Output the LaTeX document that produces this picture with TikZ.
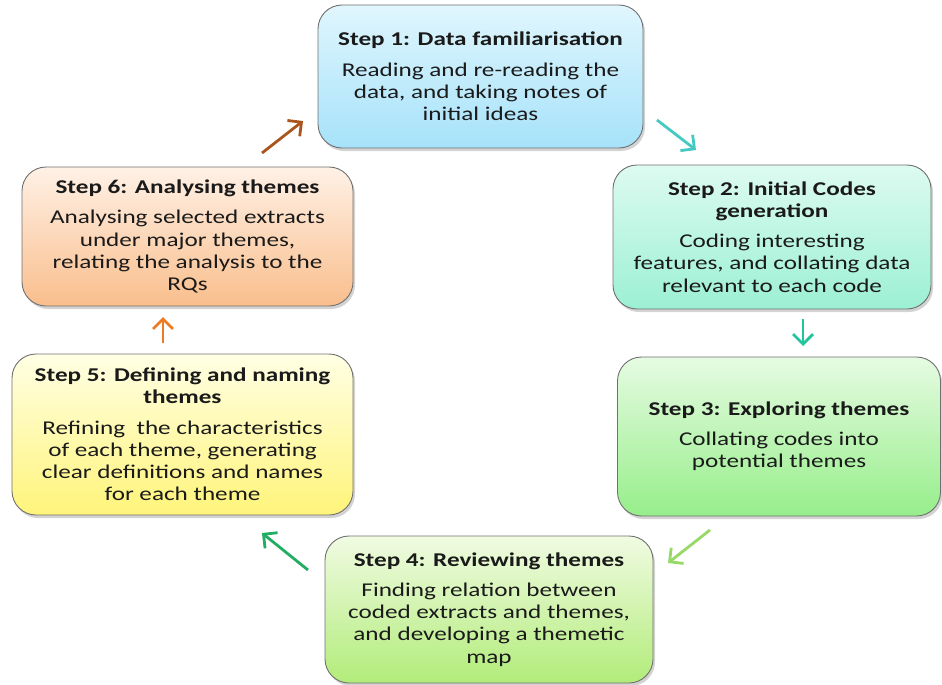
\documentclass[tikz,border=0pt]{standalone}
\usepackage{fontspec}
\setmainfont{Carlito}[FakeStretch=1.29]
\usetikzlibrary{arrows.meta,shadows}
\definecolor{txt}{HTML}{1A1A1A}
\definecolor{bord}{HTML}{707070}
\definecolor{t1}{HTML}{E0F6FD}\definecolor{b1}{HTML}{A6E2FA}
\definecolor{t2}{HTML}{DDFBF0}\definecolor{b2}{HTML}{9CF0D4}
\definecolor{t3}{HTML}{E6FBE2}\definecolor{b3}{HTML}{96EE8A}
\definecolor{t4}{HTML}{F0FBE2}\definecolor{b4}{HTML}{B2EC7A}
\definecolor{t5}{HTML}{FFFFE4}\definecolor{b5}{HTML}{FFF47A}
\definecolor{t6}{HTML}{FFF1E6}\definecolor{b6}{HTML}{F9BE8C}
\definecolor{ar1}{HTML}{45C9C2}
\definecolor{ar2}{HTML}{22C49E}
\definecolor{ar3}{HTML}{96D966}
\definecolor{ar4}{HTML}{22AE62}
\definecolor{ar5}{HTML}{EE7A22}
\definecolor{ar6}{HTML}{A8561E}
\tikzset{
  stepbox/.style={draw=bord, line width=0.9pt, rounded corners=24pt, align=center,
    inner sep=0pt, font=\fontsize{19.5}{22.2}\selectfont, text=txt,
    drop shadow={opacity=0.35, shadow xshift=2pt, shadow yshift=-3pt}},
  flow/.style={line width=2.8pt, -{Straight Barb[length=10pt,width=20pt,line width=2.8pt]}},
}
\newcommand{\stitle}[1]{\textbf{#1}}
\begin{document}
\begin{tikzpicture}[x=1pt,y=-1pt]
\useasboundingbox (0,0) rectangle (942,685);
\node[stepbox, minimum width=325pt, minimum height=143pt, top color=t1, bottom color=b1] (s1) at (480.5,76.5)
  {\stitle{Step 1: Data familiarisation}\\[8pt]Reading and re-reading the\\data, and taking notes of\\initial ideas};
\node[stepbox, minimum width=318pt, minimum height=144pt, top color=t2, bottom color=b2] (s2) at (772,237)
  {\stitle{Step 2: Initial Codes}\\\stitle{generation}\\[8pt]Coding interesting\\features, and collating data\\relevant to each code};
\node[stepbox, minimum width=323pt, minimum height=159pt, top color=t3, bottom color=b3] (s3) at (779,436.5)
  {\stitle{Step 3: Exploring themes}\\[8pt]Collating codes into\\potential themes};
\node[stepbox, minimum width=328pt, minimum height=147pt, top color=t4, bottom color=b4] (s4) at (489,609.5)
  {\stitle{Step 4: Reviewing themes}\\[8pt]Finding relation between\\coded extracts and themes,\\and developing a themetic\\map};
\node[stepbox, minimum width=341pt, minimum height=161pt, top color=t5, bottom color=b5] (s5) at (182.5,434.5)
  {\stitle{Step 5: Defining and naming}\\\stitle{themes}\\[8pt]Refining\ \ the characteristics\\of each theme, generating\\clear definitions and names\\for each theme};
\node[stepbox, minimum width=331pt, minimum height=139pt, top color=t6, bottom color=b6] (s6) at (187.5,236.5)
  {\stitle{Step 6: Analysing themes}\\[8pt]Analysing selected extracts\\under major themes,\\relating the analysis to the\\RQs};
\coordinate (a1s) at (657,120); \coordinate (a1e) at (696,150);
\coordinate (a2s) at (803,319); \coordinate (a2e) at (803,346);
\coordinate (a3s) at (710,530); \coordinate (a3e) at (668,563);
\coordinate (a4s) at (308,570); \coordinate (a4e) at (262,533);
\coordinate (a5s) at (163,343); \coordinate (a5e) at (163,317);
\coordinate (a6s) at (262,153); \coordinate (a6e) at (303,121);
\draw[flow, draw=ar1] (a1s) -- (a1e);
\draw[flow, draw=ar2] (a2s) -- (a2e);
\draw[flow, draw=ar3] (a3s) -- (a3e);
\draw[flow, draw=ar4] (a4s) -- (a4e);
\draw[flow, draw=ar5] (a5s) -- (a5e);
\draw[flow, draw=ar6] (a6s) -- (a6e);
\end{tikzpicture}
\end{document}
